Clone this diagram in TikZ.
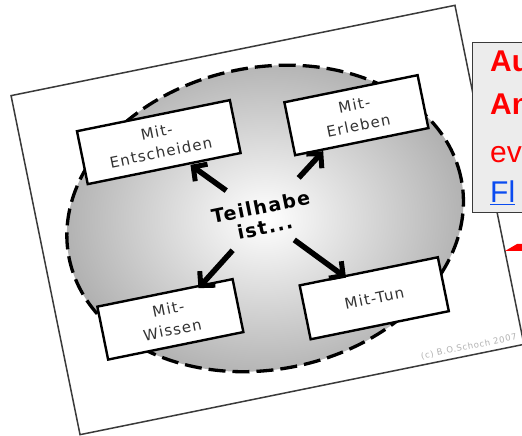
\documentclass[tikz,border=0pt]{standalone}
\usepackage{fontspec}
\setmainfont{Liberation Sans}
\newfontfamily\boxfont[LetterSpace=8]{DejaVu Sans}
\usetikzlibrary{arrows.meta}

\definecolor{rahmengrau}{HTML}{3A3A3A}
\definecolor{hinweisgrau}{HTML}{ECECEC}
\definecolor{linkblau}{HTML}{0A4BF0}

\tikzset{
  feld/.style={draw=black, line width=2.4pt, fill=white, inner sep=0pt,
    minimum height=54pt, align=center, text=black!80,
    font=\boxfont\fontsize{15}{21}\selectfont},
  pfeil/.style={line width=5.5pt, -{Straight Barb[length=10pt,width=21pt,line width=5pt]}},
  hinweis/.style={anchor=base west, inner sep=0pt, font=\fontsize{30}{36}\selectfont}
}

\begin{document}
\begin{tikzpicture}[x=1pt,y=1pt]
\clip (0,0) rectangle (522,436);
\fill[white] (0,0) rectangle (522,436);

\begin{scope}[shift={(267.5,216)},rotate=11.5,transform shape]
\draw[line width=1.5pt, draw=rahmengrau, fill=white] (-226.5,-173) rectangle (226.5,173);
\shade[inner color=white, outer color=black!32] (-2,2) ellipse [x radius=200, y radius=151];
\draw[dash pattern=on 17pt off 7pt, line width=3.3pt] (-2,2) ellipse [x radius=200, y radius=151];

\node[align=center, inner sep=0pt, font=\boxfont\bfseries\fontsize{19}{21}\selectfont] (teil) at (-4,4) {Teilhabe\\ist...};

\node[feld, minimum width=156pt] (ent) at (-91,98) {Mit-\\Entscheiden};
\node[feld, minimum width=136pt] (erl) at (108,85) {Mit-\\Erleben};
\node[feld, minimum width=138pt] (wis) at (-115,-78) {Mit-\\Wissen};
\node[feld, minimum width=141pt, minimum height=55pt] (tun) at (89,-98) {Mit-Tun};

\draw[pfeil, shorten <=45pt, shorten >=39pt] (teil.center) -- (ent.center);
\draw[pfeil, shorten <=53pt, shorten >=49pt] (teil.center) -- (erl.center);
\draw[pfeil, shorten <=45pt, shorten >=42pt] (teil.center) -- (wis.center);
\draw[pfeil, shorten <=39pt, shorten >=35pt] (teil.center) -- (tun.center);

\node[anchor=base east, inner sep=0pt, text=black!30, font=\boxfont\fontsize{8.5}{10}\selectfont] (copy) at (221,-167) {(c) B.O.Schoch 2007};
\end{scope}

% Hinweiskasten rechts
\draw[line width=1.5pt, draw=rahmengrau, fill=hinweisgrau] (472.7,223.3) rectangle (540,393.3);
\node[hinweis, text=red, font=\bfseries\fontsize{30}{36}\selectfont] (au) at (490,364) {Au};
\node[hinweis, text=red, font=\bfseries\fontsize{30}{36}\selectfont] (an) at (490,321) {An};
\node[hinweis, text=red] (ev) at (490,273) {ev};
\node[hinweis, text=linkblau] (fl) at (490,233) {\underline{Fl}};

\fill[red] (505,185) -- (517,192) -- (522,192) -- (522,185) -- cycle;
\end{tikzpicture}
\end{document}
